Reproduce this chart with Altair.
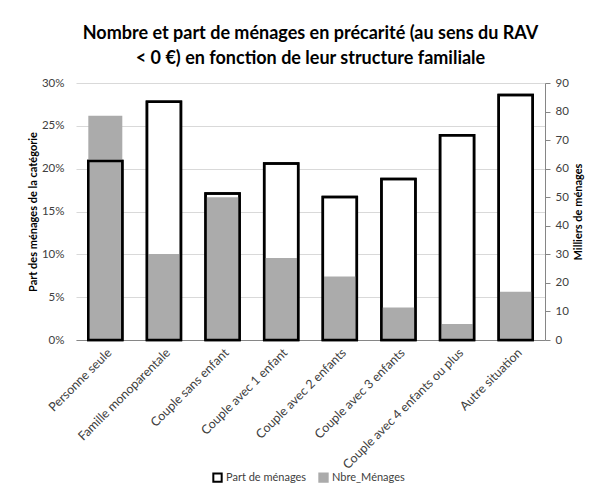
import altair as alt
import pandas as pd

categories = ["Personne seule", "Famille monoparentale", "Couple sans enfant",
              "Couple avec 1 enfant", "Couple avec 2 enfants", "Couple avec 3 enfants",
              "Couple avec 4 enfants ou plus", "Autre situation"]
part_pct = [20.9, 27.8, 17.1, 20.6, 16.7, 18.8, 23.9, 28.6]
nbre_milliers = [78.5, 30.1, 50.0, 28.7, 22.2, 11.4, 5.6, 16.9]
series_names = ["Part de ménages", "Nbre_Ménages"]

df = pd.DataFrame({"cat": categories, "part": part_pct, "nbre": nbre_milliers})

FONT = "Lato"
GRAY = "#ababab"

xenc = alt.X("cat:N", sort=categories, title=None,
             scale=alt.Scale(paddingInner=0.42, paddingOuter=0.21),
             axis=alt.Axis(labelAngle=315, labelFontSize=12.5, labelColor="#404040",
                           labelFont=FONT, ticks=False, domainColor="#868686",
                           labelPadding=6, labelLimit=300))

fill_scale = alt.Scale(domain=series_names, range=["white", GRAY])
stroke_scale = alt.Scale(domain=series_names, range=["black", GRAY])
leg = alt.Legend(title=None, orient="none", direction="horizontal", legendX=136,
                 legendY=389, symbolType="square", symbolSize=70, symbolStrokeWidth=2,
                 labelFont=FONT, labelFontSize=11, labelColor="#404040",
                 columnPadding=8, symbolOffset=0, labelOffset=3)

base = alt.Chart(df).transform_calculate(s1="'Part de ménages'", s2="'Nbre_Ménages'")

l1 = base.mark_bar(strokeWidth=2.5).encode(
    x=xenc,
    y=alt.Y("part:Q", title="Part des ménages de la catégorie",
            scale=alt.Scale(domain=[0, 30]),
            axis=alt.Axis(values=[0, 5, 10, 15, 20, 25, 30],
                          labelExpr="datum.value + '%'", grid=True,
                          gridColor="#d9d9d9", domain=False, ticks=False,
                          labelPadding=12, labelFontSize=11.5, labelColor="#404040",
                          labelFont=FONT, titleFont=FONT, titleFontSize=11,
                          titleFontWeight="bold", titleColor="black", titlePadding=3)),
    fill=alt.Fill("s1:N", scale=fill_scale, legend=leg),
    stroke=alt.Stroke("s1:N", scale=stroke_scale, legend=leg),
)

l2 = base.mark_bar(strokeWidth=0).encode(
    x=xenc,
    y=alt.Y("nbre:Q", title="Milliers de ménages",
            scale=alt.Scale(domain=[0, 90]),
            axis=alt.Axis(orient="right", values=list(range(0, 100, 10)), grid=False,
                          domainColor="#868686", tickColor="#868686", tickSize=5,
                          labelPadding=5, labelFontSize=11.5, labelColor="#404040",
                          labelFont=FONT, titleFont=FONT, titleFontSize=11,
                          titleFontWeight="bold", titleColor="black",
                          titleAngle=270, titlePadding=15)),
    fill=alt.Fill("s2:N", scale=fill_scale, legend=leg),
    stroke=alt.Stroke("s2:N", scale=stroke_scale, legend=leg),
)

l3 = base.mark_bar(strokeWidth=2.5, fill=None, stroke="black").encode(
    x=xenc,
    y=alt.Y("part:Q", scale=alt.Scale(domain=[0, 30]), axis=None),
)

chart = alt.layer(l1, l2, l3).resolve_scale(y="independent").properties(
    width=469, height=257,
    autosize=alt.AutoSizeParams(type="none"),
    padding={"left": 68, "top": 75, "right": 40, "bottom": 144},
    title=alt.TitleParams(
        text=["Nombre et part de ménages en précarité (au sens du RAV",
              "< 0 €) en fonction de leur structure familiale"],
        font=FONT, fontSize=18, fontWeight="bold", color="black",
        anchor="middle", offset=9, lineHeight=25),
).configure_view(stroke=None)

chart.save("out.html", embed_options={"renderer": "svg", "actions": False})
